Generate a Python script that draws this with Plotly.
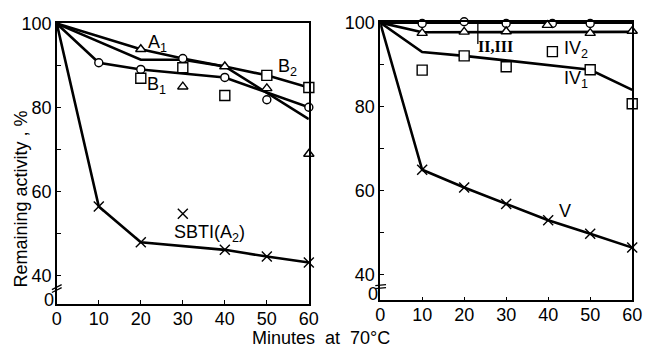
import plotly.graph_objects as go

W, H = 651, 348

# ---------------- data ----------------
# Left panel
L_top_x = [0, 20, 30, 40, 50, 60]
L_top_y = [100, 93.9, 91.7, 89.8, 87.7, 84.8]
L_mid_x = [0, 20, 30, 40, 60]
L_mid_y = [100, 91.4, 91.4, 89.8, 77.3]
L_b1_x = [0, 10, 20, 40, 60]
L_b1_y = [100, 90.7, 89.1, 87.2, 80.1]
L_sbti_line_x = [0, 10, 20, 40, 50, 60]
L_sbti_line_y = [100, 56.5, 48.0, 46.2, 44.6, 43.2]

L_tri_x = [20, 30, 40, 50, 60]
L_tri_y = [93.9, 85.0, 89.8, 84.6, 69.0]
L_circ_x = [10, 20, 30, 40, 50, 60]
L_circ_y = [90.7, 89.1, 91.7, 87.2, 81.9, 80.1]
L_sq_x = [20, 30, 40, 50, 60]
L_sq_y = [87.0, 89.5, 82.9, 87.7, 84.8]
L_cross_x = [10, 20, 30, 40, 50, 60]
L_cross_y = [56.5, 48.0, 54.8, 46.2, 44.6, 43.2]

# Right panel
R_circ_line_x = [0, 60]
R_circ_line_y = [100, 100]
R_tri_line_x = [0, 10, 60]
R_tri_line_y = [100, 97.7, 97.8]
R_iv1_x = [0, 10, 20, 50, 60]
R_iv1_y = [100, 93.0, 92.1, 88.8, 84.0]
R_v_x = [0, 10, 20, 30, 40, 50, 60]
R_v_y = [100, 65.0, 60.8, 56.9, 53.0, 49.8, 46.5]

R_circ_x = [10, 20, 30, 41, 50]
R_circ_y = [99.8, 100.2, 99.8, 99.8, 99.8]
R_tri_x = [10, 20, 30, 39.8, 50, 60]
R_tri_y = [97.5, 97.8, 97.9, 99.4, 97.5, 98.0]
R_sq_x = [10, 20, 30, 41, 50, 60]
R_sq_y = [88.7, 92.1, 89.5, 93.1, 88.8, 80.7]
R_cross_x = [10, 20, 30, 40, 50, 60]
R_cross_y = [65.0, 60.8, 56.9, 53.0, 49.8, 46.5]

x_ticks = [0, 10, 20, 30, 40, 50, 60]
y_major = [40, 60, 80, 100]
y_minor = [50, 70, 90]

FONT = "Liberation Sans, Arial, sans-serif"

fig = go.Figure()

def line(x, y, xa, ya):
    fig.add_trace(go.Scatter(x=x, y=y, mode="lines", xaxis=xa, yaxis=ya,
                             line=dict(color="black", width=2.6),
                             cliponaxis=False, hoverinfo="skip"))

def marks(x, y, xa, ya, symbol, size):
    if symbol == "x-thin":
        mk = dict(symbol="x-thin", size=size, color="black",
                  line=dict(color="black", width=1.4))
    else:
        mk = dict(symbol=symbol, size=size, color="white",
                  line=dict(color="black", width=1.4))
    fig.add_trace(go.Scatter(x=x, y=y, mode="markers", xaxis=xa, yaxis=ya,
                             marker=mk, cliponaxis=False, hoverinfo="skip"))

# left
line(L_top_x, L_top_y, "x", "y")
line(L_mid_x, L_mid_y, "x", "y")
line(L_b1_x, L_b1_y, "x", "y")
line(L_sbti_line_x, L_sbti_line_y, "x", "y")
marks(L_tri_x, L_tri_y, "x", "y", "triangle-up", 9)
marks(L_circ_x, L_circ_y, "x", "y", "circle", 8)
marks(L_sq_x, L_sq_y, "x", "y", "square", 10)
marks(L_cross_x, L_cross_y, "x", "y", "x-thin", 10)

# right
line(R_circ_line_x, R_circ_line_y, "x2", "y2")
line(R_tri_line_x, R_tri_line_y, "x2", "y2")
line(R_iv1_x, R_iv1_y, "x2", "y2")
line(R_v_x, R_v_y, "x2", "y2")
marks(R_circ_x, R_circ_y, "x2", "y2", "circle", 8)
marks(R_tri_x, R_tri_y, "x2", "y2", "triangle-up", 9)
marks(R_sq_x, R_sq_y, "x2", "y2", "square", 10)
marks(R_cross_x, R_cross_y, "x2", "y2", "x-thin", 10)

def px_x(p):
    return p / W

def px_y(p):
    return 1 - p / H

axis_common = dict(showline=True, linecolor="black", linewidth=1.5, mirror=True,
                   ticks="inside", ticklen=4, tickwidth=1.4, tickcolor="black",
                   showgrid=False, zeroline=False,
                   tickfont=dict(family=FONT, size=18, color="black"))
minor_y = dict(tickvals=y_minor, ticks="inside", ticklen=4, tickwidth=1.4,
               tickcolor="black", showgrid=False)

fig.update_layout(
    width=W, height=H, margin=dict(l=0, r=0, t=0, b=0),
    paper_bgcolor="white", plot_bgcolor="white", showlegend=False,
    xaxis=dict(domain=[px_x(53), px_x(311)], range=[0, 60], anchor="y",
               tickvals=x_ticks, ticklabelstandoff=-3, **axis_common),
    yaxis=dict(domain=[px_y(303), px_y(14)], range=[33.28, 100.23], anchor="x",
               tickvals=y_major, minor=minor_y, **axis_common),
    xaxis2=dict(domain=[px_x(384), px_x(642)], range=[0, 60], anchor="y2",
                tickvals=x_ticks, ticklabelstandoff=-3, **axis_common),
    yaxis2=dict(domain=[px_y(299), px_y(13)], range=[33.98, 100.23], anchor="x2",
                tickvals=y_major, minor=minor_y, **axis_common),
)

ann = []
def text(t, x, y, size=18, fam=FONT, angle=0):
    ann.append(dict(text=t, x=px_x(x), y=px_y(y), xref="paper", yref="paper",
                    showarrow=False, xanchor="center", yanchor="middle",
                    textangle=angle, font=dict(family=fam, size=size, color="black")))

text("A<sub>1</sub>", 156, 35)
text("B<sub>1</sub>", 155, 79)
text("B<sub>2</sub>", 289, 60)
text("SBTI(A<sub>2</sub>)", 209, 230)
text("<b>II,III</b>", 502, 38, size=16, fam="Liberation Serif, DejaVu Serif, serif")
text("IV<sub>2</sub>", 584, 42)
text("IV<sub>1</sub>", 584, 72)
text("V", 573, 207)
text("Remaining activity , %", 16, 195, size=18, angle=-90)
text("Minutes\u00a0 at\u00a0 70°C", 323, 338, size=18)
# "0" labels below the axis break
text("0", 45, 299, size=18)
text("0", 377, 293, size=18)
fig.update_layout(annotations=ann)

shapes = []
def seg(x0, y0, x1, y1, w=1.3):
    shapes.append(dict(type="line", xref="paper", yref="paper",
                       x0=px_x(x0), y0=px_y(y0), x1=px_x(x1), y1=px_y(y1),
                       line=dict(color="black", width=w)))

# axis-break marks
seg(48, 288, 58, 283)
seg(48, 291, 58, 286)
seg(379, 284, 390, 283)
seg(379, 287, 390, 286)
# pointer for II,III label
seg(484, 15, 484, 36)
fig.update_layout(shapes=shapes)

fig.write_html("out.html")
